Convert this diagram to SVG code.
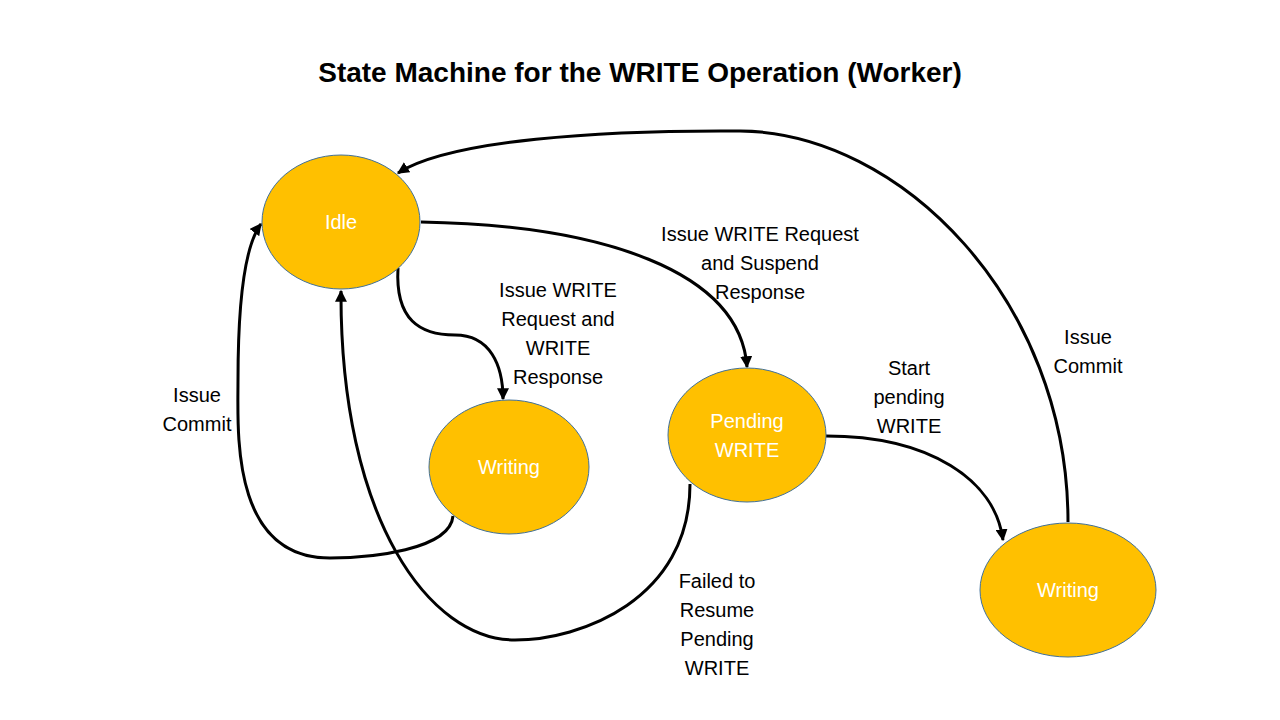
<svg xmlns="http://www.w3.org/2000/svg" width="1280" height="720" viewBox="0 0 1280 720">
<defs>
<style>
.node{fill:#FFC000;stroke:#41719C;stroke-width:1}
.nt{font-family:"Liberation Sans",Arial,sans-serif;font-size:20px;fill:#fff;text-anchor:middle}
.lb{font-family:"Liberation Sans",Arial,sans-serif;font-size:20px;fill:#000;text-anchor:middle}
.title{font-family:"Liberation Sans",Arial,sans-serif;font-size:28px;font-weight:bold;fill:#000;text-anchor:middle}
.edge{fill:none;stroke:#000;stroke-width:3;marker-end:url(#arr)}
</style>
<marker id="arr" viewBox="0 0 10 10" refX="9" refY="5" markerWidth="4" markerHeight="4" orient="auto" markerUnits="strokeWidth">
<path d="M0,0 L10,5 L0,10 z" fill="#000"/>
</marker>
</defs>
<rect width="1280" height="720" fill="#fff"/>
<text class="title" x="640" y="82">State Machine for the WRITE Operation (Worker)</text>
<g id="connectors">
<path class="edge" d="M421,222 C600,225 740,270 747,367"/>
<path class="edge" d="M398,268 C395,320 420,335 455,335 C490,335 503,365 503,399"/>
<path class="edge" d="M453,516 C450,550 370,558 330,558 C230,558 238,430 238,380 C238,300 245,245 261,224"/>
<path class="edge" d="M690,484 C690,600 580,640 515,640 C430,640 340,520 341,291"/>
<path class="edge" d="M826,436 C930,436 995,480 1003,540"/>
<path class="edge" d="M1068,522 C1068,300 900,132 740,131 C600,130 450,140 398,173"/>
</g>
<g id="idle"><ellipse class="node" cx="341" cy="222" rx="79" ry="67"/><text class="nt" x="341" y="229">Idle</text></g>
<g id="writing1"><ellipse class="node" cx="509" cy="467" rx="80" ry="67"/><text class="nt" x="509" y="474">Writing</text></g>
<g id="pending"><ellipse class="node" cx="747" cy="435" rx="79" ry="67"/><text class="nt" x="747" y="428">Pending</text><text class="nt" x="747" y="457">WRITE</text></g>
<g id="writing2"><ellipse class="node" cx="1068" cy="590" rx="88" ry="67"/><text class="nt" x="1068" y="597">Writing</text></g>
<g id="labels">
<text class="lb" x="760" y="241">Issue WRITE Request</text>
<text class="lb" x="760" y="270">and Suspend</text>
<text class="lb" x="760" y="299">Response</text>
<text class="lb" x="558" y="297">Issue WRITE</text>
<text class="lb" x="558" y="326">Request and</text>
<text class="lb" x="558" y="355">WRITE</text>
<text class="lb" x="558" y="384">Response</text>
<text class="lb" x="197" y="402">Issue</text>
<text class="lb" x="197" y="431">Commit</text>
<text class="lb" x="909" y="375">Start</text>
<text class="lb" x="909" y="404">pending</text>
<text class="lb" x="909" y="433">WRITE</text>
<text class="lb" x="1088" y="344">Issue</text>
<text class="lb" x="1088" y="373">Commit</text>
<text class="lb" x="717" y="588">Failed to</text>
<text class="lb" x="717" y="617">Resume</text>
<text class="lb" x="717" y="646">Pending</text>
<text class="lb" x="717" y="675">WRITE</text>
</g>
</svg>
